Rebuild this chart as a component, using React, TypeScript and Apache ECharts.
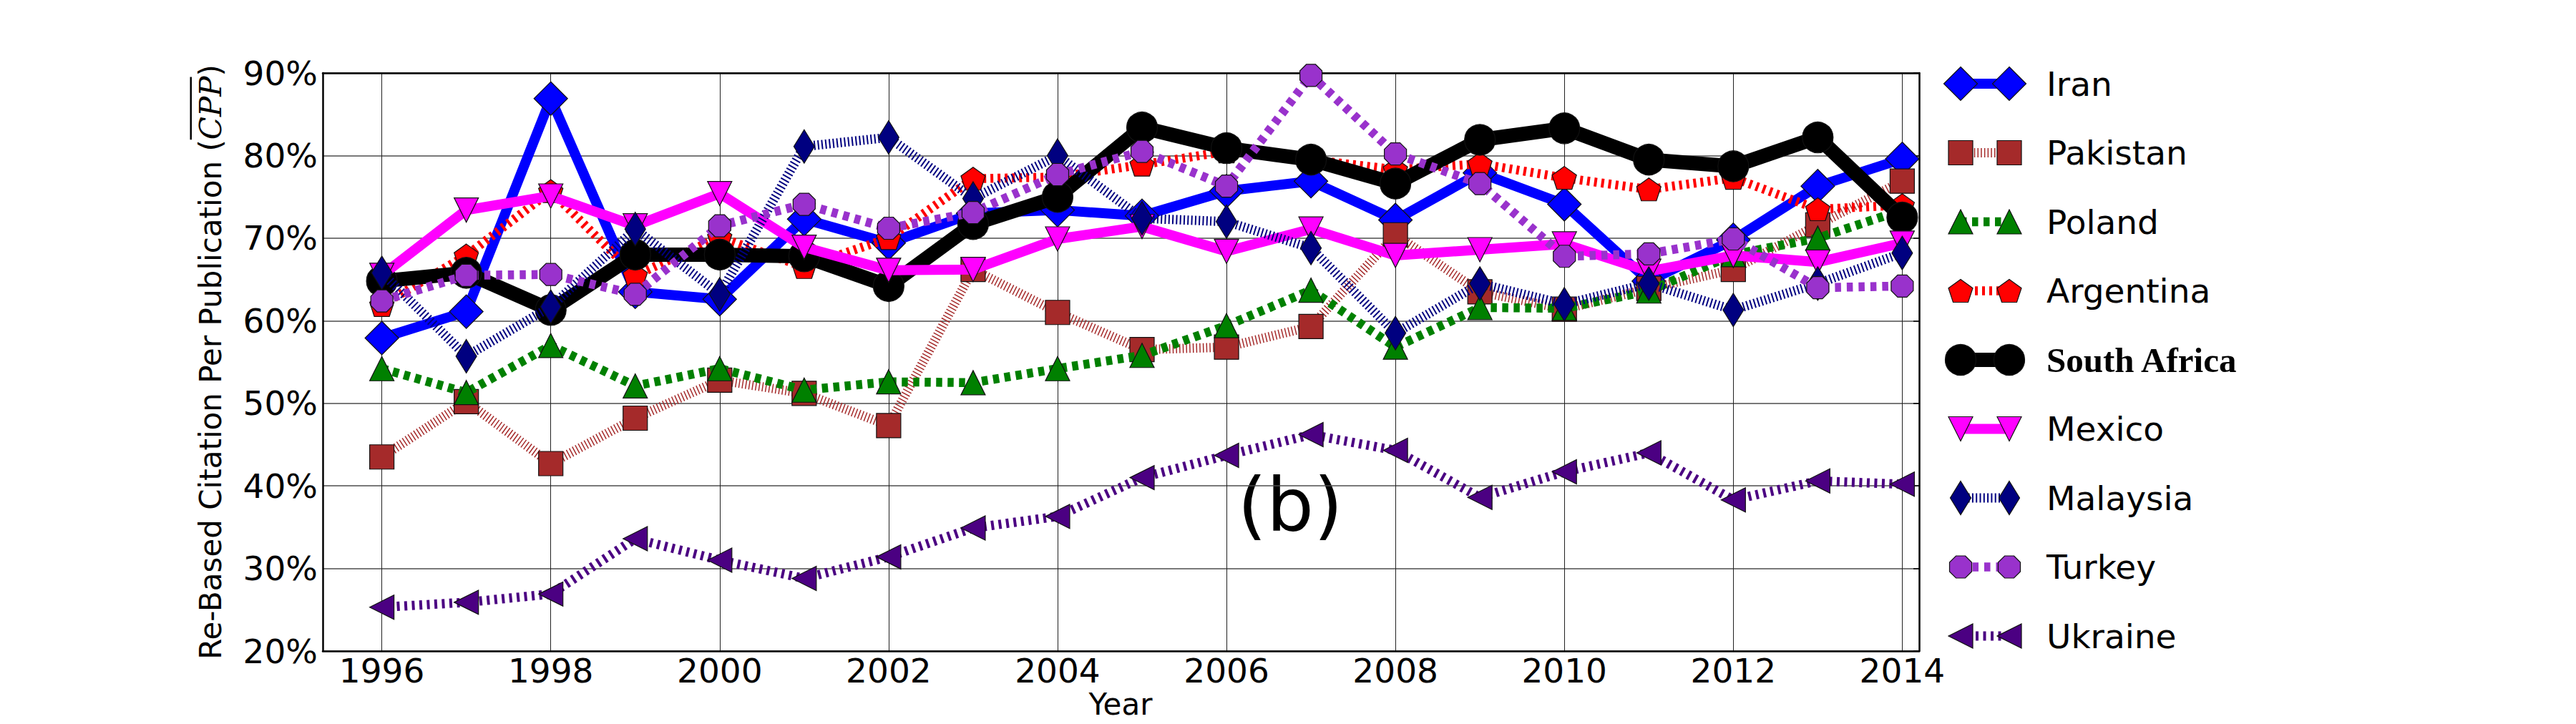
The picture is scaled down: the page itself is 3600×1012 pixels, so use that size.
import React, { useEffect, useRef } from 'react';
import * as echarts from 'echarts';

// ---------- data ----------
const years = [1996, 1997, 1998, 1999, 2000, 2001, 2002, 2003, 2004, 2005, 2006, 2007, 2008, 2009, 2010, 2011, 2012, 2013, 2014];
const xTickValues = [1996, 1998, 2000, 2002, 2004, 2006, 2008, 2010, 2012, 2014];
const yMin = 20;
const yMax = 90;
const yStep = 10;

const countryNames = ['Iran', 'Pakistan', 'Poland', 'Argentina', 'South Africa', 'Mexico', 'Malaysia', 'Turkey', 'Ukraine'];

const iran = [57.9, 61.1, 86.9, 63.5, 62.6, 72.3, 69.4, 73.0, 73.4, 72.7, 75.7, 76.9, 72.2, 77.9, 74.1, 64.8, 69.8, 76.3, 79.6];
const pakistan = [43.5, 50.2, 42.7, 48.2, 52.8, 51.2, 47.3, 66.2, 61.0, 56.5, 56.8, 59.3, 70.4, 63.5, 61.4, 63.9, 66.2, 71.6, 76.9];
const poland = [54.2, 51.3, 57.0, 52.1, 54.2, 51.6, 52.6, 52.5, 54.2, 55.8, 59.4, 63.7, 56.8, 61.6, 61.5, 63.6, 68.0, 70.0, 73.4];
const argentina = [61.9, 67.9, 75.7, 65.5, 70.1, 66.5, 70.0, 77.2, 77.4, 78.9, 80.5, 79.5, 78.3, 79.0, 77.3, 75.9, 77.3, 73.5, 74.0];
const southAfrica = [64.8, 65.8, 61.3, 68.0, 68.0, 67.8, 64.2, 71.7, 75.0, 83.4, 80.9, 79.5, 76.6, 81.9, 83.3, 79.5, 78.7, 82.2, 72.5];
const mexico = [65.5, 73.4, 75.1, 71.5, 75.4, 68.9, 66.1, 66.2, 69.9, 71.4, 68.4, 71.1, 67.9, 68.6, 69.3, 66.0, 67.9, 67.1, 69.4];
const malaysia = [65.8, 55.7, 61.7, 71.1, 63.2, 81.1, 82.2, 74.8, 80.0, 72.4, 72.0, 68.8, 58.5, 64.5, 62.0, 64.5, 61.3, 64.5, 68.2];
const turkey = [62.4, 65.5, 65.6, 63.2, 71.5, 74.1, 71.2, 73.1, 77.7, 80.5, 76.3, 89.7, 80.2, 76.6, 67.8, 68.1, 69.9, 64.0, 64.2];
const ukraine = [25.3, 25.9, 26.9, 33.6, 31.0, 28.8, 31.4, 34.9, 36.3, 41.0, 43.7, 46.2, 44.3, 38.6, 41.7, 44.0, 38.3, 40.6, 40.2];

const seriesValues = [iran, pakistan, poland, argentina, southAfrica, mexico, malaysia, turkey, ukraine];

const yLabelMain = 'Re-Based Citation Per Publication (';
const yLabelSym = 'CPP';
const yLabelEnd = ')';
const xLabel = 'Year';
const panelLabel = '(b)';

// ---------- styles ----------
const PENTAGON = 'path://M0,-1 L0.951,-0.309 L0.588,0.809 L-0.588,0.809 L-0.951,-0.309 Z';
const OCTAGON = 'path://M0.383,-0.924 L0.924,-0.383 L0.924,0.383 L0.383,0.924 L-0.383,0.924 L-0.924,0.383 L-0.924,-0.383 L-0.383,-0.924 Z';

type Sty = { color: string; width: number; dash: any; symbol: string; size: number[]; rotate: number; shape: string };
const styles: Sty[] = [
  { color: '#0000ff', width: 14, dash: 'solid', symbol: 'diamond', size: [47, 47], rotate: 0, shape: 'diamond' },
  { color: '#a52a2a', width: 13, dash: [1.5, 3.2], symbol: 'rect', size: [34, 34], rotate: 0, shape: 'square' },
  { color: '#008000', width: 12.5, dash: [8.5, 7.5], symbol: 'triangle', size: [34, 34], rotate: 0, shape: 'triUp' },
  { color: '#ff0000', width: 12.5, dash: [4, 6], symbol: PENTAGON, size: [34, 32], rotate: 0, shape: 'pentagon' },
  { color: '#000000', width: 20, dash: 'solid', symbol: 'circle', size: [43, 43], rotate: 0, shape: 'circle' },
  { color: '#ff00ff', width: 14, dash: 'solid', symbol: 'triangle', size: [34, 34], rotate: 180, shape: 'triDown' },
  { color: '#000080', width: 13, dash: [2, 3.3], symbol: 'diamond', size: [29, 47], rotate: 0, shape: 'diamond' },
  { color: '#9932cc', width: 12.5, dash: [8.5, 8], symbol: OCTAGON, size: [31, 31], rotate: 0, shape: 'octagon' },
  { color: '#4b0082', width: 13, dash: [4, 6.5], symbol: 'triangle', size: [34, 34], rotate: 90, shape: 'triLeft' },
];

const FONT = '"DejaVu Sans", Verdana, sans-serif';

function shapeGraphic(shape: string, cx: number, cy: number, w: number, h: number, fill: string) {
  const style = { fill, stroke: '#111', lineWidth: 1.2 };
  if (shape === 'circle') return { type: 'circle', shape: { cx, cy, r: w / 2 }, style };
  if (shape === 'square') return { type: 'rect', shape: { x: cx - w / 2, y: cy - h / 2, width: w, height: h }, style };
  let pts: number[][] = [];
  if (shape === 'diamond') pts = [[0, -1], [1, 0], [0, 1], [-1, 0]];
  if (shape === 'triUp') pts = [[0, -1], [1, 1], [-1, 1]];
  if (shape === 'triDown') pts = [[0, 1], [1, -1], [-1, -1]];
  if (shape === 'triLeft') pts = [[-1, 0], [1, -1], [1, 1]];
  if (shape === 'pentagon') pts = [[0, -1], [1, -0.2346], [0.618, 1], [-0.618, 1], [-1, -0.2346]];
  if (shape === 'octagon') pts = [[0.414, -1], [1, -0.414], [1, 0.414], [0.414, 1], [-0.414, 1], [-1, 0.414], [-1, -0.414], [-0.414, -1]];
  return { type: 'polygon', shape: { points: pts.map(([a, b]) => [cx + (a * w) / 2, cy + (b * h) / 2]) }, style };
}

function measure(txt: string, font: string) {
  const c = document.createElement('canvas').getContext('2d')!;
  c.font = font;
  return c.measureText(txt).width;
}

export default function App() {
  const ref = useRef<HTMLDivElement>(null);
  useEffect(() => {
    document.body.style.margin = '0';
    const chart = echarts.init(ref.current!, null, { renderer: 'svg' });

    const series = seriesValues.map((vals, i) => {
      const s = styles[i];
      return {
        type: 'line',
        name: countryNames[i],
        data: years.map((y, j) => [y, vals[j]]),
        z: 2 + i,
        symbol: s.symbol,
        symbolSize: s.size,
        symbolRotate: s.rotate,
        showAllSymbol: true,
        clip: false,
        silent: true,
        lineStyle: { color: s.color, width: s.width, type: s.dash, cap: 'butt', join: 'round' },
        itemStyle: { color: s.color, borderColor: '#111', borderWidth: 1.2 },
        emphasis: { disabled: true },
      };
    });

    // y label with overline
    const YFS = 42;
    const wA = measure(yLabelMain, `${YFS}px "DejaVu Sans"`);
    const wB = measure(yLabelSym, `italic ${YFS}px "DejaVu Serif"`);
    const wC = measure(yLabelEnd, `${YFS}px "DejaVu Sans"`);
    const W = wA + wB + wC;
    const ylx = 294;
    const yly = 506;
    const start = yly + W / 2;

    const graphics: any[] = [
      {
        type: 'text',
        x: ylx,
        y: yly,
        rotation: Math.PI / 2,
        silent: true,
        style: {
          text: `{a|${yLabelMain}}{b|${yLabelSym}}{a|${yLabelEnd}}`,
          rich: {
            a: { fontFamily: FONT, fontSize: YFS, fill: '#000' },
            b: { fontFamily: '"DejaVu Serif", serif', fontStyle: 'italic', fontSize: YFS, fill: '#000' },
          },
          align: 'center',
          verticalAlign: 'middle',
          fill: '#000',
        },
      },
      {
        type: 'rect',
        silent: true,
        shape: { x: 265.5, y: start - wA - wB + 1, width: 2.5, height: wB - 1 },
        style: { fill: '#000' },
      },
      {
        type: 'text',
        x: 1566,
        y: 984,
        silent: true,
        style: { text: xLabel, fontFamily: FONT, fontSize: 42, fill: '#000', align: 'center', verticalAlign: 'middle' },
      },
      {
        type: 'text',
        x: 1803,
        y: 706,
        silent: true,
        style: { text: panelLabel, fontFamily: FONT, fontSize: 104, fill: '#000', align: 'center', verticalAlign: 'middle' },
      },
    ];

    // legend
    const legX1 = 2740;
    const legX2 = 2808;
    const legY0 = 117;
    const legDy = 96.5;
    styles.forEach((s, i) => {
      const y = legY0 + i * legDy;
      graphics.push({
        type: 'line',
        silent: true,
        shape: { x1: legX1, y1: y, x2: legX2, y2: y },
        style: { stroke: s.color, lineWidth: s.width, lineDash: s.dash === 'solid' ? null : s.dash, lineCap: 'butt' },
      });
      const w = s.rotate === 90 ? s.size[1] : s.size[0];
      const h = s.rotate === 90 ? s.size[0] : s.size[1];
      const g1: any = shapeGraphic(s.shape, legX1, y, w, h, s.color);
      const g2: any = shapeGraphic(s.shape, legX2, y, w, h, s.color);
      g1.silent = true;
      g2.silent = true;
      graphics.push(g1, g2);
      const isSA = countryNames[i] === 'South Africa';
      graphics.push({
        type: 'text',
        x: 2860,
        y: y,
        silent: true,
        style: {
          text: countryNames[i],
          fontFamily: isSA ? '"Liberation Serif", "DejaVu Serif", serif' : FONT,
          fontWeight: isSA ? 'bold' : 'normal',
          fontSize: isSA ? 49 : 47,
          fill: '#000',
          align: 'left',
          verticalAlign: 'middle',
        },
      });
    });

    const option: any = {
      animation: false,
      backgroundColor: '#ffffff',
      grid: { left: 451, top: 102, width: 2231, height: 808, containLabel: false, outerBoundsMode: 'none' },
      xAxis: [
        {
          type: 'value',
          min: 1995.3,
          max: 2014.2,
          position: 'bottom',
          axisLine: { show: true, onZero: false, lineStyle: { color: '#000', width: 2.5 } },
          axisTick: { show: false, customValues: xTickValues },
          axisLabel: {
            customValues: xTickValues,
            formatter: (v: number) => String(v),
            fontFamily: FONT,
            fontSize: 47,
            color: '#000',
            margin: 4,
          },
          splitLine: { show: true, lineStyle: { color: '#222', width: 1 } },
        },
        {
          type: 'value',
          min: 1995.3,
          max: 2014.2,
          position: 'top',
          axisLine: { show: true, onZero: false, lineStyle: { color: '#000', width: 2.5 } },
          axisTick: { show: false },
          axisLabel: { show: false },
          splitLine: { show: false },
        },
      ],
      yAxis: [
        {
          type: 'value',
          min: yMin,
          max: yMax,
          interval: yStep,
          position: 'left',
          axisLine: { show: true, onZero: false, lineStyle: { color: '#000', width: 2.5 } },
          axisTick: { show: false },
          axisLabel: { formatter: '{value}%', fontFamily: FONT, fontSize: 47, color: '#000', margin: 7 },
          splitLine: { show: true, lineStyle: { color: '#4d4d4d', width: 1.5 } },
        },
        {
          type: 'value',
          min: yMin,
          max: yMax,
          interval: yStep,
          position: 'right',
          axisLine: { show: true, onZero: false, lineStyle: { color: '#000', width: 2.5 } },
          axisTick: { show: true, inside: true, length: 8, lineStyle: { color: '#000', width: 1.5 } },
          axisLabel: { show: false },
          splitLine: { show: false },
        },
      ],
      series,
      graphic: graphics,
    };

    chart.setOption(option);
    return () => chart.dispose();
  }, []);
  return <div ref={ref} style={{ position: 'fixed', left: 0, top: 0, width: 3600, height: 1012 }} />;
}
